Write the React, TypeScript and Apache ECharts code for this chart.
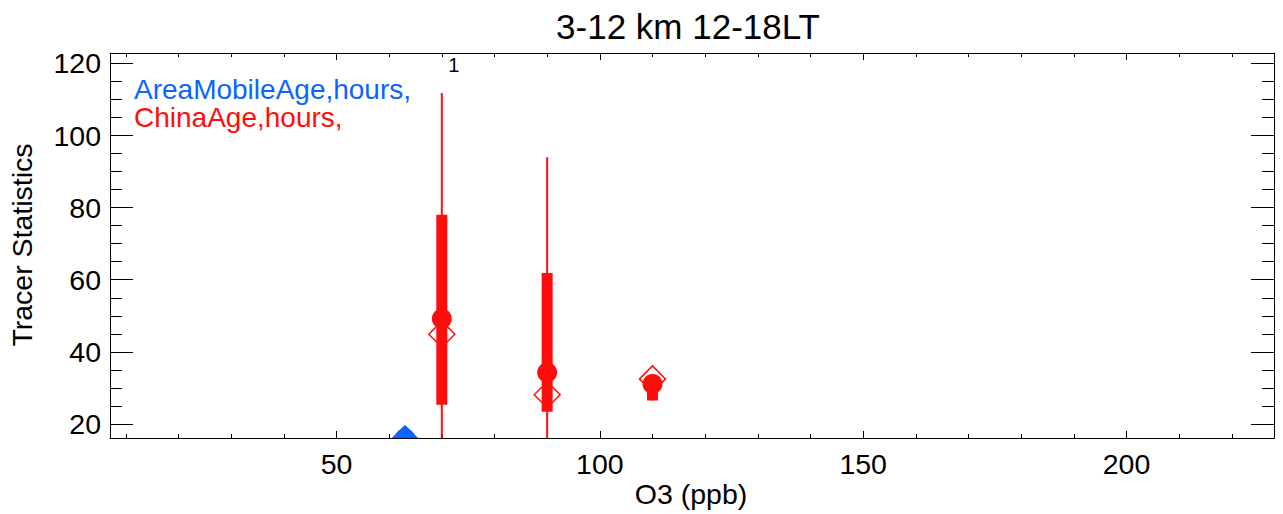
import React, { useEffect, useRef } from "react";
import * as echarts from "echarts";

// ---- data ----
const titleText = "3-12 km 12-18LT";
const xAxisName = "O3 (ppb)";
const yAxisName = "Tracer Statistics";
const legendNames = ["AreaMobileAge,hours,", "ChinaAge,hours,"];

const xMajorTicks = [50, 100, 150, 200];
const xMinorTicks = [10, 20, 30, 40, 60, 70, 80, 90, 110, 120, 130, 140, 160, 170, 180, 190, 210, 220];
const yMajorTicks = [20, 40, 60, 80, 100, 120];
const yMinorTicks = [25, 30, 35, 45, 50, 55, 65, 70, 75, 85, 90, 95, 105, 110, 115];

// ChinaAge statistics per O3 bin
const chinaX = [70, 90, 110];
const chinaWhiskerLow = [10, 10, 26.5];
const chinaWhiskerHigh = [111.8, 94, 33];
const chinaBoxLow = [25.3, 23.4, 26.5];
const chinaBoxHigh = [78, 61.9, 33];
const chinaMean = [49.2, 34.3, 31.1];
const chinaMedian = [44.9, 28.1, 32.5];

// AreaMobileAge statistics per O3 bin
const areaX = [63];
const areaMean = [16.0];
const areaMedian = [16.0];

// count labels
const countX = [70];
const countY = [119.5];
const countText = ["1"];

const X_MIN = 7;
const X_MAX = 228;
const Y_MIN = 16.1;
const Y_MAX = 122.9;

const RED = "#ff0d0d";
const BLUE = "#0a64ff";
const FONT = "'Liberation Sans', Arial, Helvetica, sans-serif";

export default function App() {
  const ref = useRef<HTMLDivElement>(null);

  useEffect(() => {
    if (!ref.current) return;
    const chart = echarts.init(ref.current, null, { renderer: "svg" });

    const gridRect = { left: 110, right: 9, top: 53, bottom: 76 };

    const xAx = (gridIndex: number, position: string, ticks: number[], len: number, labels: boolean, line: boolean) => ({
      type: "value",
      gridIndex,
      position,
      min: X_MIN,
      max: X_MAX,
      axisLine: { show: line, onZero: false, lineStyle: { color: "#000", width: 1 } },
      axisTick: { show: true, inside: true, length: len, customValues: ticks, lineStyle: { color: "#000", width: 1 } },
      axisLabel: labels
        ? { show: true, customValues: ticks, fontSize: 28.5, color: "#000", fontFamily: FONT, margin: 11 }
        : { show: false },
      splitLine: { show: false },
    });
    const yAx = (gridIndex: number, position: string, ticks: number[], len: number, labels: boolean, line: boolean) => ({
      type: "value",
      gridIndex,
      position,
      min: Y_MIN,
      max: Y_MAX,
      axisLine: { show: line, onZero: false, lineStyle: { color: "#000", width: 1 } },
      axisTick: { show: true, inside: true, length: len, customValues: ticks, lineStyle: { color: "#000", width: 1 } },
      axisLabel: labels
        ? { show: true, customValues: ticks, fontSize: 28.5, color: "#000", fontFamily: FONT, margin: 9 }
        : { show: false },
      splitLine: { show: false },
    });

    const boxData = chinaX.map((x, i) => [x, chinaWhiskerLow[i], chinaWhiskerHigh[i], chinaBoxLow[i], chinaBoxHigh[i]]);
    const chinaMedianData = chinaX.map((x, i) => [x, chinaMedian[i]]);
    const chinaMeanData = chinaX.map((x, i) => [x, chinaMean[i]]);
    const areaMedianData = areaX.map((x, i) => [x, areaMedian[i]]);
    const areaMeanData = areaX.map((x, i) => [x, areaMean[i]]);
    const countData = countX.map((x, i) => [x, countY[i]]);

    const diamond = (cx: number, cy: number, h: number) => [
      [cx - h, cy],
      [cx, cy - h],
      [cx + h, cy],
      [cx, cy + h],
    ];

    chart.setOption({
      animation: false,
      backgroundColor: "#fff",
      grid: [
        { ...gridRect, containLabel: false },
        { ...gridRect, containLabel: false },
      ],
      xAxis: [
        xAx(0, "bottom", xMajorTicks, 7, true, true),
        xAx(0, "top", xMajorTicks, 7, false, true),
        xAx(1, "bottom", xMinorTicks, 4, false, false),
        xAx(1, "top", xMinorTicks, 4, false, false),
      ],
      yAxis: [
        yAx(0, "left", yMajorTicks, 23, true, true),
        yAx(0, "right", yMajorTicks, 23, false, true),
        yAx(1, "left", yMinorTicks, 12, false, false),
        yAx(1, "right", yMinorTicks, 12, false, false),
      ],
      graphic: [
        {
          type: "text",
          x: 688,
          y: 26,
          style: { text: titleText, fontSize: 35, fontFamily: FONT, fill: "#000", align: "center", verticalAlign: "middle" },
        },
        {
          type: "text",
          x: 691,
          y: 494,
          style: { text: xAxisName, fontSize: 28.5, fontFamily: FONT, fill: "#000", align: "center", verticalAlign: "middle" },
        },
        {
          type: "text",
          x: 22,
          y: 245,
          rotation: Math.PI / 2,
          style: { text: yAxisName, fontSize: 28.5, fontFamily: FONT, fill: "#000", align: "center", verticalAlign: "middle" },
        },
        {
          type: "text",
          x: 134,
          y: 89.5,
          style: { text: legendNames[0], fontSize: 28, lineHeight: 26, fontFamily: FONT, fill: BLUE, align: "left", verticalAlign: "middle" },
        },
        {
          type: "text",
          x: 134,
          y: 117,
          style: { text: legendNames[1], fontSize: 28, lineHeight: 26, fontFamily: FONT, fill: RED, align: "left", verticalAlign: "middle" },
        },
      ],
      series: [
        {
          type: "custom",
          name: "ChinaAge box",
          xAxisIndex: 0,
          yAxisIndex: 0,
          clip: true,
          data: boxData,
          renderItem: (params: any, api: any) => {
            const x = api.value(0);
            const wl = api.coord([x, api.value(1)]);
            const wh = api.coord([x, api.value(2)]);
            const bl = api.coord([x, api.value(3)]);
            const bh = api.coord([x, api.value(4)]);
            return {
              type: "group",
              children: [
                { type: "line", shape: { x1: wl[0], y1: wl[1], x2: wh[0], y2: wh[1] }, style: { stroke: RED, lineWidth: 2 } },
                { type: "rect", shape: { x: bl[0] - 5.5, y: bh[1], width: 11, height: bl[1] - bh[1] }, style: { fill: RED } },
              ],
            };
          },
        },
        {
          type: "custom",
          name: "ChinaAge median",
          xAxisIndex: 0,
          yAxisIndex: 0,
          clip: true,
          data: chinaMedianData,
          renderItem: (params: any, api: any) => {
            const p = api.coord([api.value(0), api.value(1)]);
            return {
              type: "polygon",
              shape: { points: diamond(p[0], p[1], 13) },
              style: { fill: "none", stroke: RED, lineWidth: 1.5 },
            };
          },
        },
        {
          type: "custom",
          name: "ChinaAge mean",
          xAxisIndex: 0,
          yAxisIndex: 0,
          clip: true,
          data: chinaMeanData,
          renderItem: (params: any, api: any) => {
            const p = api.coord([api.value(0), api.value(1)]);
            return { type: "circle", shape: { cx: p[0], cy: p[1], r: 10 }, style: { fill: RED } };
          },
        },
        {
          type: "custom",
          name: "AreaMobileAge median",
          xAxisIndex: 0,
          yAxisIndex: 0,
          clip: true,
          data: areaMedianData,
          renderItem: (params: any, api: any) => {
            const p = api.coord([api.value(0), api.value(1)]);
            return {
              type: "polygon",
              shape: { points: diamond(p[0], p[1], 13) },
              style: { fill: BLUE, stroke: BLUE, lineWidth: 1 },
            };
          },
        },
        {
          type: "custom",
          name: "AreaMobileAge mean",
          xAxisIndex: 0,
          yAxisIndex: 0,
          clip: true,
          data: areaMeanData,
          renderItem: (params: any, api: any) => {
            const p = api.coord([api.value(0), api.value(1)]);
            return { type: "circle", shape: { cx: p[0], cy: p[1], r: 10 }, style: { fill: BLUE } };
          },
        },
        {
          type: "custom",
          name: "count",
          xAxisIndex: 0,
          yAxisIndex: 0,
          clip: false,
          data: countData,
          renderItem: (params: any, api: any) => {
            const p = api.coord([api.value(0), api.value(1)]);
            return {
              type: "text",
              x: p[0] + 12,
              y: p[1],
              style: {
                text: countText[params.dataIndex],
                fontSize: 20,
                fontFamily: FONT,
                fill: "#000",
                align: "center",
                verticalAlign: "middle",
              },
            };
          },
        },
      ],
    });

    return () => chart.dispose();
  }, []);

  return (
    <div
      ref={ref}
      style={{ position: "fixed", left: 0, top: 0, width: 1283, height: 514, background: "#fff" }}
    />
  );
}
